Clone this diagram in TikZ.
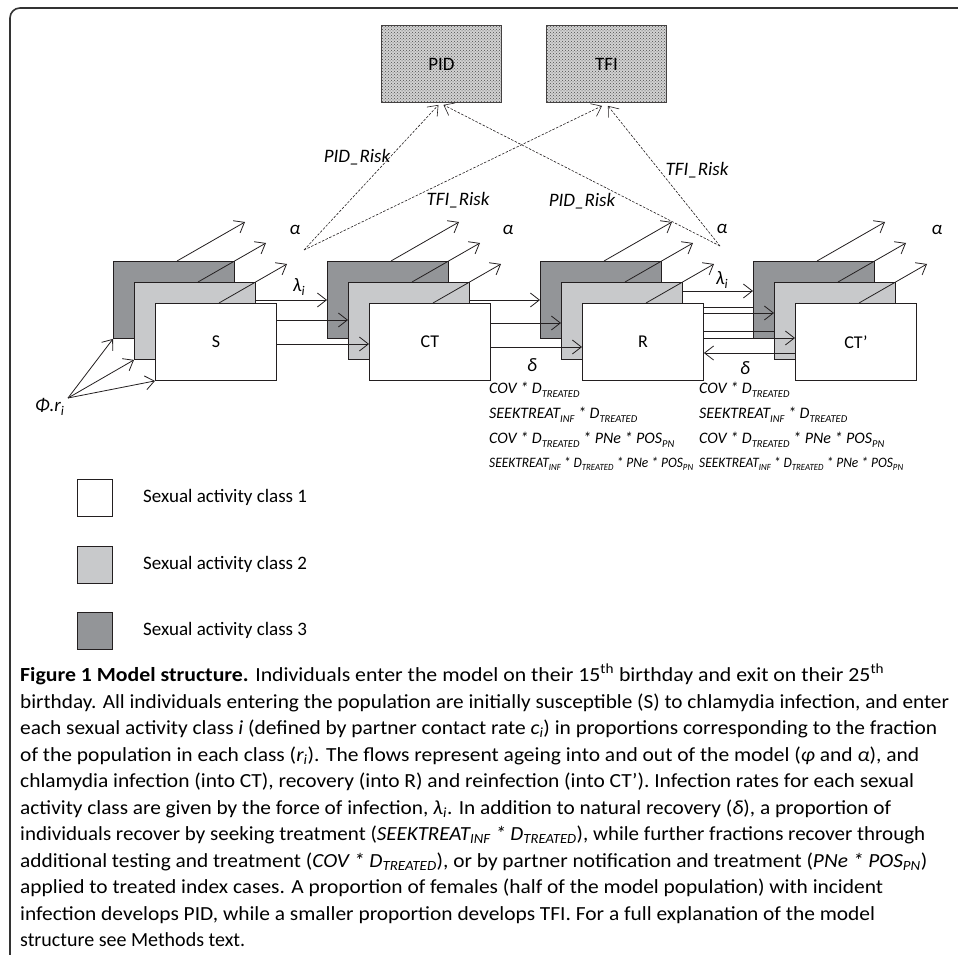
\documentclass[tikz,border=0pt]{standalone}
\usepackage{fontspec}
\usepackage{graphicx}
\setmainfont{Carlito}
\usetikzlibrary{arrows.meta,patterns,calc}
\definecolor{cdark}{HTML}{939598}
\definecolor{clight}{HTML}{C8C9CB}
\definecolor{ink}{HTML}{231F20}
\newcommand\fsz[1]{\fontsize{#1}{#1}\selectfont}
\newcommand\lsub[1]{\raisebox{-0.22em}{\fsz{10.5}#1}}
\newcommand\fitline[2]{\resizebox{#1pt}{\height}{#2}}
\newcommand\mygroup[3]{%
  \node[cl3] (#1d) at (#2,261) {};
  \node[cl2] (#1l) at (#2+21,282) {};
  \node[cl1] (#1w) at (#2+42,303) {#3};
  \draw[flow] ($(#1d.north west)+(64,0)$) -- ++(68,-39);
  \draw[flow] ($(#1l.north west)+(64,0)$) -- ++(68,-39);
  \draw[flow] ($(#1w.north west)+(64,0)$) -- ++(68,-39);
}
\begin{document}
\begin{tikzpicture}[x=1pt,y=-1pt,
  boxbase/.style={draw=ink, line width=0.9pt, minimum width=121pt, minimum height=77pt, inner sep=0pt, anchor=north west},
  cl1/.style={boxbase, fill=white, font=\fsz{18}},
  cl2/.style={boxbase, fill=clight},
  cl3/.style={boxbase, fill=cdark},
  flow/.style={draw=ink, line width=0.8pt, -{Straight Barb[length=9pt,width=14pt]}},
  bareline/.style={draw=ink, line width=0.8pt},
  risk/.style={draw=ink, line width=0.6pt, dash pattern=on 2.5pt off 1.5pt, -{Straight Barb[length=9pt,width=14pt]}},
  hazard/.style={anchor=north west, minimum width=120pt, minimum height=77pt, inner sep=0pt, draw=ink!85, line width=0.9pt, preaction={fill=gray!35}, pattern=crosshatch dots, pattern color=black!70, font=\fsz{19}},
  lab/.style={inner sep=0pt, font=\fsz{19}\itshape},
  formula/.style={anchor=west, inner sep=0pt, font=\fsz{16}\itshape},
  legbox/.style={draw=ink, line width=0.9pt, minimum width=35pt, minimum height=37pt, inner sep=0pt, anchor=north west},
  legtext/.style={anchor=west, inner sep=0pt, font=\fsz{19}},
  captext/.style={anchor=base west, inner sep=0pt, font=\fsz{20}},
  outline/.style={draw=black!80, line width=1.6pt, rounded corners=10pt}]
\useasboundingbox (0,0) rectangle (958,955);
\draw[outline] (958,8) -- (10,8) -- (10,955);

% hazard boxes
\node[hazard] (pid) at (381,25) {PID};
\node[hazard] (tfi) at (546,25) {TFI};

% compartments
\mygroup{S}{113}{S}
\mygroup{C}{327}{CT}
\mygroup{R}{540}{R}
\mygroup{Q}{753}{CT’}

% alpha labels
\node[lab] (a1) at (295,230) {α};
\node[lab] (a2) at (508,230) {α};
\node[lab] (a3) at (722,229) {α};
\node[lab] (a4) at (937,230) {α};

% S -> CT
\draw[flow] ($(Sl.north east)+(0,18)$) -- ($(Cd.north west)+(0,39)$);
\draw[flow] ($(Sw.north east)+(0,17)$) -- ($(Cl.north west)+(0,38)$);
\draw[flow] ($(Sw.north east)+(0,41)$) -- ($(Cw.north west)+(0,41)$);
\node[lab] (lam1) at (299,287) {λ\textsubscript{i}};

% CT -> R
\draw[flow] ($(Cl.north east)+(0,18)$) -- ($(Rd.north west)+(0,39)$);
\draw[flow] ($(Cw.north east)+(0,20)$) -- ($(Rl.north west)+(0,41)$);
\draw[flow] ($(Cw.north east)+(0,44)$) -- ($(Rw.north west)+(0,44)$);
\node[lab] (del1) at (532,365) {δ};

% R -> CT'
\draw[flow] ($(Rl.north east)+(0,9)$) -- ($(Qd.north west)+(0,30)$);
\draw[bareline] ($(Rw.north east)+(0,4)$) -- ($(Qd.north west)+(0,46)$);
\draw[flow] ($(Rw.north east)+(0,10)$) -- ($(Ql.north west)+(0,31)$);
\draw[bareline] ($(Rw.north east)+(0,28)$) -- ($(Ql.north west)+(0,49)$);
\draw[flow] ($(Rw.north east)+(0,35)$) -- ($(Qw.north west)+(0,35)$);
\draw[flow] ($(Qw.north west)+(0,50)$) -- ($(Rw.north east)+(0,50)$);
\node[lab] (lam2) at (722,280) {λ\textsubscript{i}};
\node[lab] (del2) at (745,368) {δ};

% entry
\coordinate (phi) at (68,398);
\node[lab, anchor=west] (philab) at (35,407) {Φ.r\textsubscript{i}};
\draw[flow] (phi) -- (Sd.south west);
\draw[flow] (phi) -- (Sl.south west);
\draw[flow] (phi) -- (Sw.south west);

% risks
\coordinate (rs) at (304,250);
\coordinate (rr) at (720,246);
\draw[risk] (rs) -- ($(pid.south)+(-3,2)$);
\draw[risk] (rs) -- ($(tfi.south)+(-4.5,3)$);
\draw[risk] (rr) -- ($(pid.south)+(2,2)$);
\draw[risk] (rr) -- ($(tfi.south)+(1.5,3)$);
\node[lab] (pr1) at (357,157) {PID\_Risk};
\node[lab] (tr1) at (458,200) {TFI\_Risk};
\node[lab] (pr2) at (582,201) {PID\_Risk};
\node[lab] (tr2) at (697,170) {TFI\_Risk};

% treatment formulas
\node[formula] (f1) at (489,390) {COV * D\lsub{TREATED}};
\node[formula] (f2) at (489,415) {SEEKTREAT\lsub{INF} * D\lsub{TREATED}};
\node[formula] (f3) at (489,440) {COV * D\lsub{TREATED} * PNe * POS\lsub{PN}};
\node[formula] (f4) at (489,464) {\resizebox{204pt}{0.9\height}{SEEKTREAT\lsub{INF} * D\lsub{TREATED} * PNe * POS\lsub{PN}}};
\node[formula] (g1) at (699,390) {COV * D\lsub{TREATED}};
\node[formula] (g2) at (699,415) {SEEKTREAT\lsub{INF} * D\lsub{TREATED}};
\node[formula] (g3) at (699,440) {COV * D\lsub{TREATED} * PNe * POS\lsub{PN}};
\node[formula] (g4) at (699,464) {\resizebox{204pt}{0.9\height}{SEEKTREAT\lsub{INF} * D\lsub{TREATED} * PNe * POS\lsub{PN}}};

% legend
\node[legbox, fill=white] (k1) at (77,479) {};
\node[legbox, fill=clight] (k2) at (77,546) {};
\node[legbox, fill=cdark] (k3) at (77,612) {};
\node[legtext] (t1) at (143,497) {Sexual activity class 1};
\node[legtext] (t2) at (143,564) {Sexual activity class 2};
\node[legtext] (t3) at (143,630) {Sexual activity class 3};

% caption
\node[captext] (c1) at (20,681.5) {\fitline{864}{\textbf{Figure 1 Model structure.} Individuals enter the model on their 15\textsuperscript{th} birthday and exit on their 25\textsuperscript{th}}};
\node[captext] (c2) at (20,708) {\fitline{929}{birthday. All individuals entering the population are initially susceptible (S) to chlamydia infection, and enter}};
\node[captext] (c3) at (20,734.5) {\fitline{917}{each sexual activity class \textit{i} (defined by partner contact rate \textit{c\textsubscript{i}}) in proportions corresponding to the fraction}};
\node[captext] (c4) at (20,761) {\fitline{899}{of the population in each class (\textit{r\textsubscript{i}}). The flows represent ageing into and out of the model (\textit{φ} and \textit{α}), and}};
\node[captext] (c5) at (20,787.5) {\fitline{894}{chlamydia infection (into CT), recovery (into R) and reinfection (into CT’). Infection rates for each sexual}};
\node[captext] (c6) at (20,814) {\fitline{871}{activity class are given by the force of infection, \textit{λ\textsubscript{i}}. In addition to natural recovery (\textit{δ}), a proportion of}};
\node[captext] (c7) at (20,840.5) {\fitline{905}{individuals recover by seeking treatment (\textit{SEEKTREAT\textsubscript{INF} * D\textsubscript{TREATED}}), while further fractions recover through}};
\node[captext] (c8) at (20,867) {\fitline{907}{additional testing and treatment (\textit{COV * D\textsubscript{TREATED}}), or by partner notification and treatment (\textit{PNe * POS\textsubscript{PN}})}};
\node[captext] (c9) at (20,893.5) {\fitline{863}{applied to treated index cases. A proportion of females (half of the model population) with incident}};
\node[captext] (c10) at (20,920) {\fitline{855}{infection develops PID, while a smaller proportion develops TFI. For a full explanation of the model}};
\node[captext] (c11) at (20,946) {\fitline{225}{structure see Methods text.}};
\end{tikzpicture}
\end{document}
